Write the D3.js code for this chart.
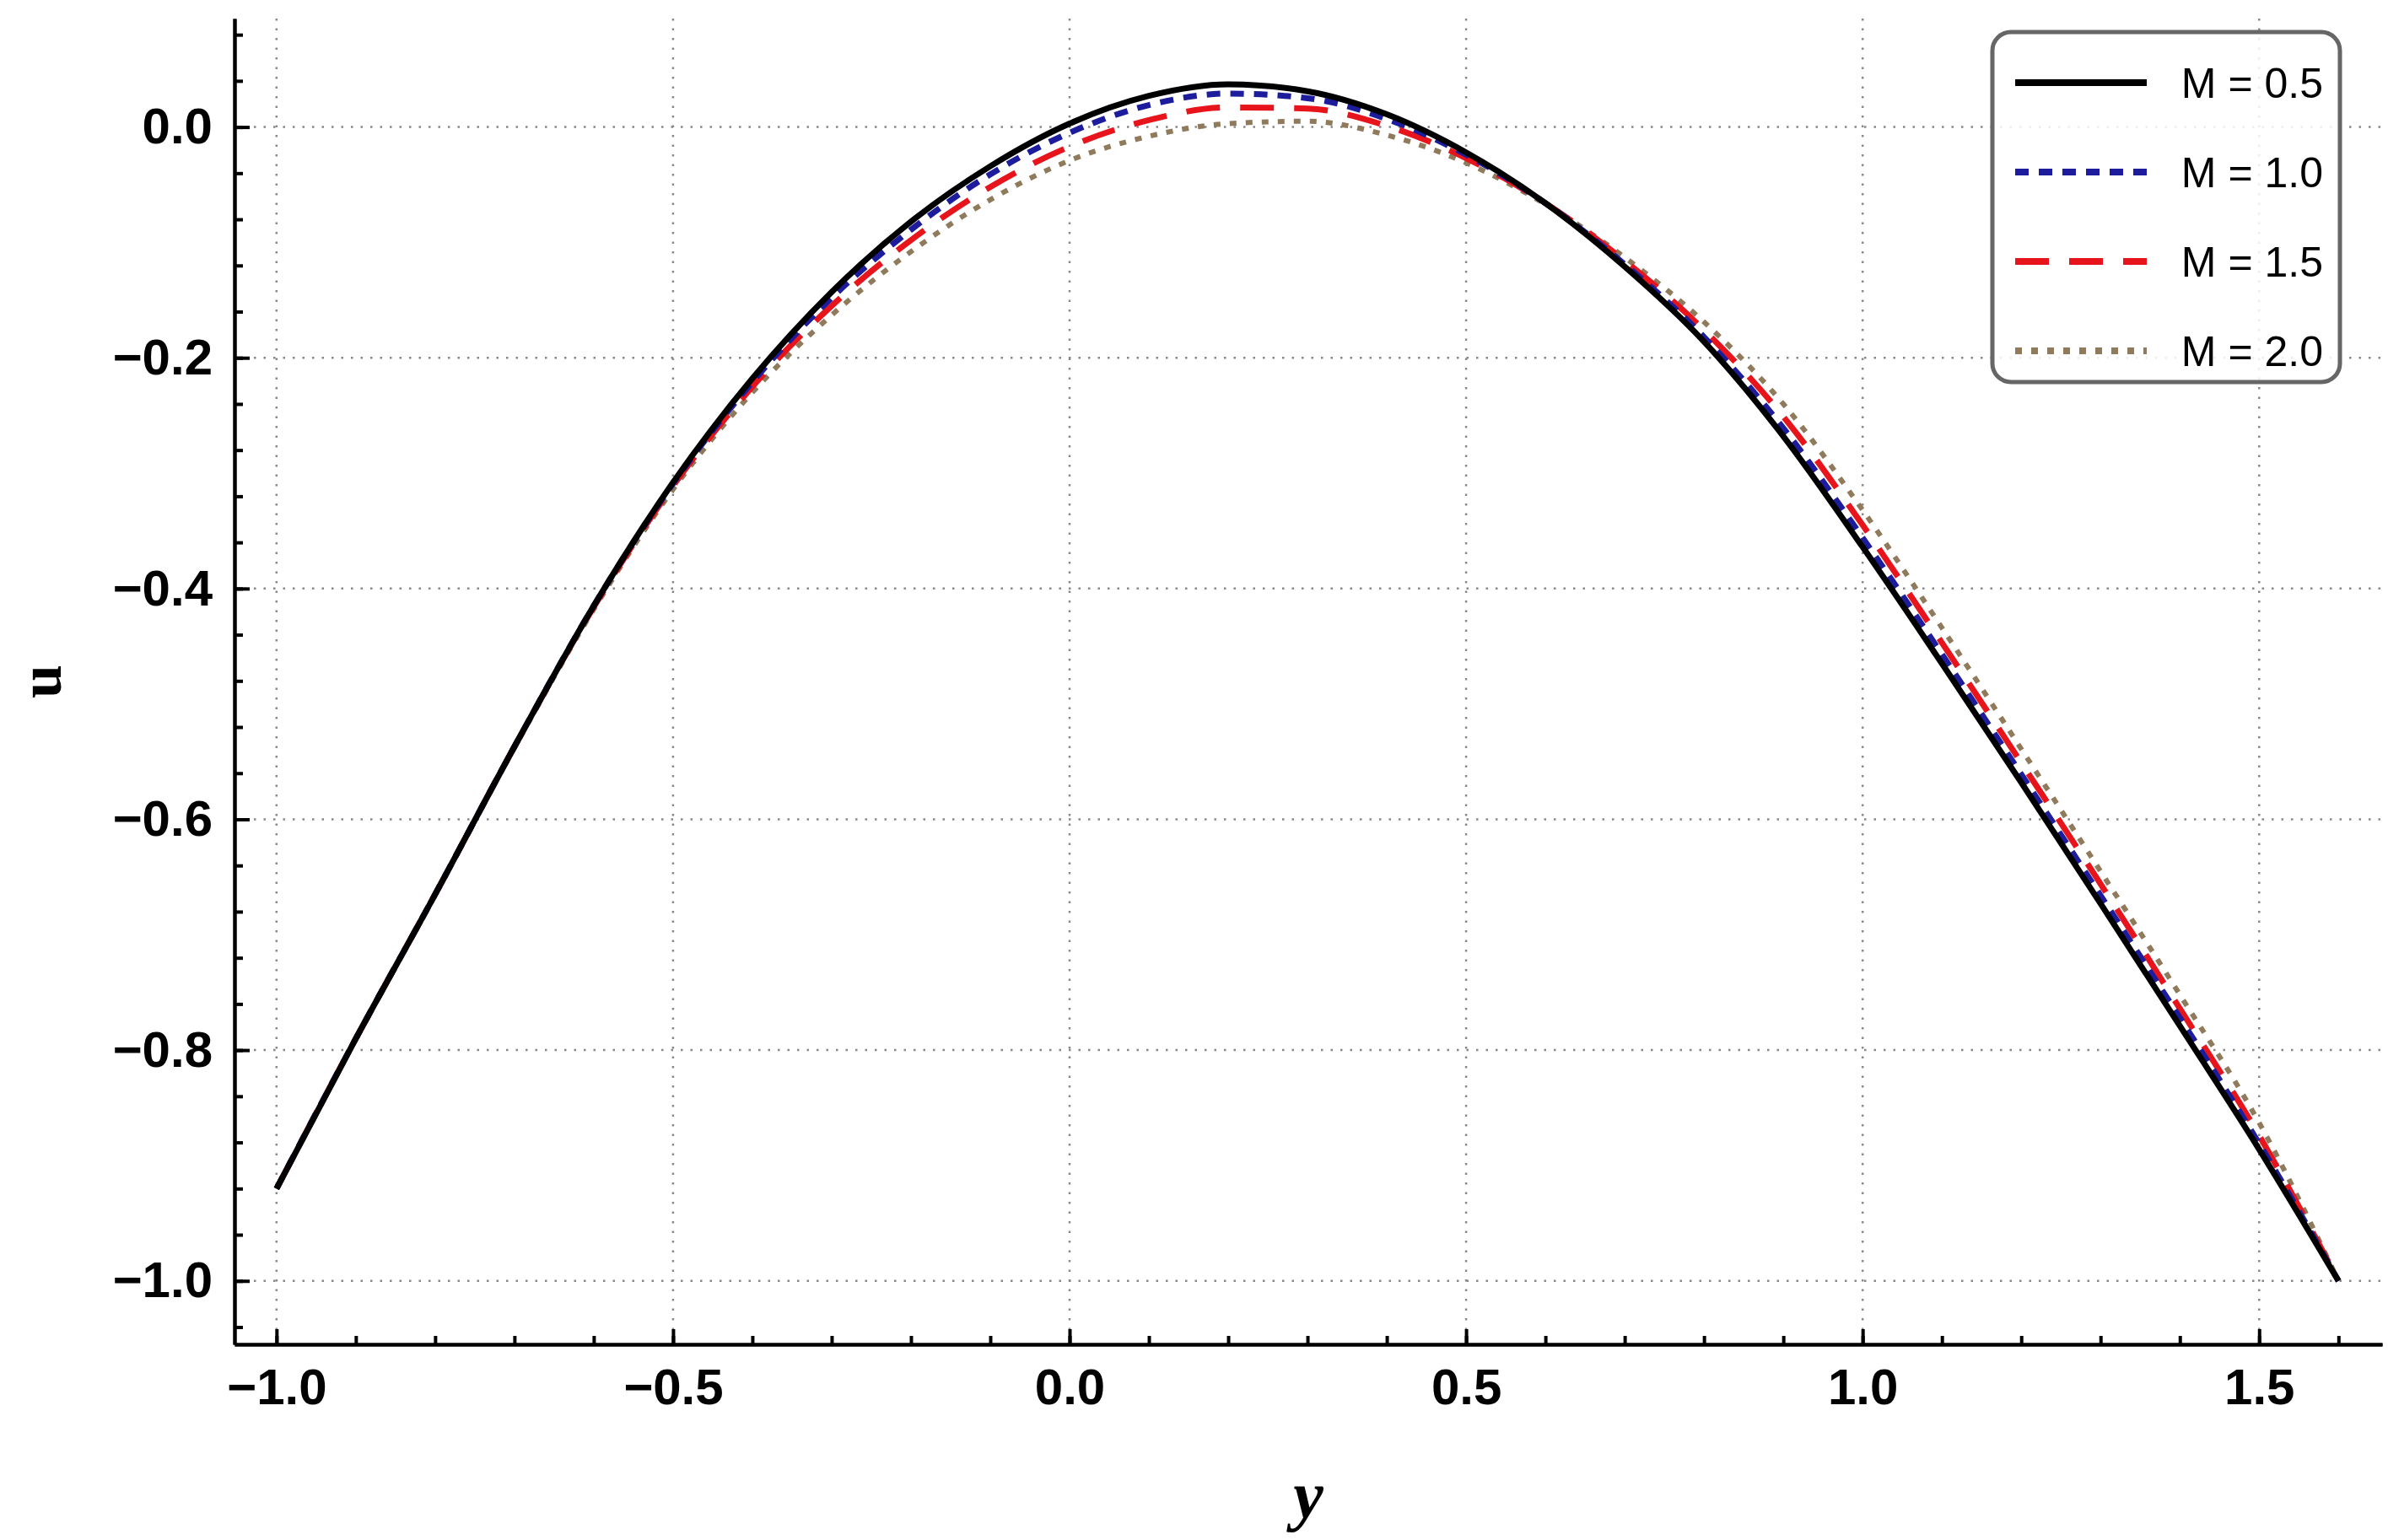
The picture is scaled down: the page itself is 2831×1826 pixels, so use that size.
<!DOCTYPE html><html><head><meta charset="utf-8">
<script src="https://cdn.jsdelivr.net/npm/d3@7"></script>
<style>body{margin:0;background:#fff}</style></head><body>
<svg id="c" width="2831" height="1826"></svg>
<script>
const yVals=[-1,-0.9,-0.8,-0.7,-0.6,-0.5,-0.4,-0.3,-0.2,-0.1,0,0.1,0.2,0.3,0.4,0.5,0.6,0.7,0.8,0.9,1.0,1.1,1.2,1.3,1.4,1.5,1.6];
const uM05=[-0.92,-0.79,-0.665,-0.537,-0.415,-0.308,-0.218,-0.143,-0.082,-0.034,0.003,0.027,0.037,0.031,0.011,-0.022,-0.066,-0.121,-0.186,-0.268,-0.364,-0.465,-0.568,-0.673,-0.779,-0.886,-1.0];
const uM10=[-0.92,-0.79,-0.665,-0.537,-0.415,-0.309,-0.221,-0.148,-0.089,-0.041,-0.005,0.019,0.029,0.025,0.007,-0.024,-0.066,-0.119,-0.182,-0.261,-0.356,-0.457,-0.561,-0.666,-0.772,-0.881,-1.0];
const uM15=[-0.92,-0.79,-0.665,-0.537,-0.416,-0.311,-0.225,-0.155,-0.098,-0.052,-0.017,0.006,0.017,0.016,0.001,-0.027,-0.066,-0.116,-0.176,-0.251,-0.345,-0.447,-0.551,-0.656,-0.764,-0.874,-1.0];
const uM20=[-0.92,-0.79,-0.665,-0.538,-0.418,-0.314,-0.23,-0.163,-0.108,-0.063,-0.029,-0.008,0.003,0.005,-0.007,-0.031,-0.067,-0.113,-0.169,-0.24,-0.332,-0.434,-0.539,-0.645,-0.752,-0.863,-1.0];
const labels=["M = 0.5","M = 1.0","M = 1.5","M = 2.0"];
const colors=["#000000","#1c1c9c","#e8141c","#8f7a5c"];
const dashes=[null,"16,12","40,24","8,11"];
const xTicks=[-1.0,-0.5,0.0,0.5,1.0,1.5];
const yTicks=[0.0,-0.2,-0.4,-0.6,-0.8,-1.0];
const series=[uM05,uM10,uM15,uM20];

const svg=d3.select("#c");
const L=278,R=2824,T=22,B=1594;
const x=d3.scaleLinear().domain([-1.053,1.655]).range([L,R]);
const y=d3.scaleLinear().domain([-1.055,0.094]).range([B,T]);
xTicks.forEach(t=>svg.append("line").attr("x1",x(t)).attr("x2",x(t)).attr("y1",T).attr("y2",B).attr("stroke","#888").attr("stroke-width",2.5).attr("stroke-dasharray","2.5,9"));
yTicks.forEach(t=>svg.append("line").attr("x1",L).attr("x2",R).attr("y1",y(t)).attr("y2",y(t)).attr("stroke","#888").attr("stroke-width",2.5).attr("stroke-dasharray","2.5,9"));
const fmt=d=>d3.format(".1f")(d).replace("-","\u2212");
const xa=svg.append("g").attr("transform",`translate(0,${B})`).call(d3.axisBottom(x).tickValues(xTicks).tickFormat(fmt).tickSizeInner(-18).tickSizeOuter(0).tickPadding(28));
const xm=svg.append("g").attr("transform",`translate(0,${B})`).call(d3.axisBottom(x).tickValues(d3.range(-1.0,1.61,0.1)).tickFormat("").tickSizeInner(-10).tickSizeOuter(0));
const ya=svg.append("g").attr("transform",`translate(${L},0)`).call(d3.axisLeft(y).tickValues(yTicks).tickFormat(fmt).tickSizeInner(-18).tickSizeOuter(0).tickPadding(26));
const ym=svg.append("g").attr("transform",`translate(${L},0)`).call(d3.axisLeft(y).tickValues(d3.range(-1.04,0.09,0.04)).tickFormat("").tickSizeInner(-10).tickSizeOuter(0));
[xa,ya,xm,ym].forEach(g=>{g.selectAll("path,line").attr("stroke","#000").attr("stroke-width",4);});
[xa,ya].forEach(g=>g.selectAll("text").attr("font-family","Liberation Sans Narrow, Liberation Sans, Arial").attr("font-weight","bold").attr("font-size",60).attr("fill","#000"));
svg.append("text").attr("x",(L+R)/2).attr("y",1800).attr("text-anchor","middle").attr("font-family","Liberation Serif").attr("font-style","italic").attr("font-weight","bold").attr("font-size",80).text("y");
svg.append("text").attr("transform",`translate(72,${(T+B)/2}) rotate(-90)`).attr("text-anchor","middle").attr("font-family","Liberation Serif").attr("font-weight","bold").attr("font-size",72).text("u");
const line=d3.line().x((d,i)=>x(yVals[i])).y(d=>y(d)).curve(d3.curveMonotoneX);
[3,2,1,0].forEach(k=>svg.append("path").datum(series[k]).attr("d",line).attr("fill","none").attr("stroke",colors[k]).attr("stroke-width",k==3?6:7).attr("stroke-dasharray",dashes[k]));
const lg=svg.append("g").attr("transform","translate(2362,38)");
lg.append("rect").attr("width",412).attr("height",415).attr("rx",22).attr("fill","#fff").attr("fill-opacity",0.85).attr("stroke","#666").attr("stroke-width",5);
labels.forEach((l,i)=>{const yy=60+i*106;
lg.append("line").attr("x1",27).attr("x2",183).attr("y1",yy).attr("y2",yy).attr("stroke",colors[i]).attr("stroke-width",8).attr("stroke-dasharray",dashes[i]);
lg.append("text").attr("x",392).attr("y",yy+18).attr("text-anchor","end").attr("font-family","Liberation Sans, Arial").attr("font-size",50).text(l);});
</script></body></html>
